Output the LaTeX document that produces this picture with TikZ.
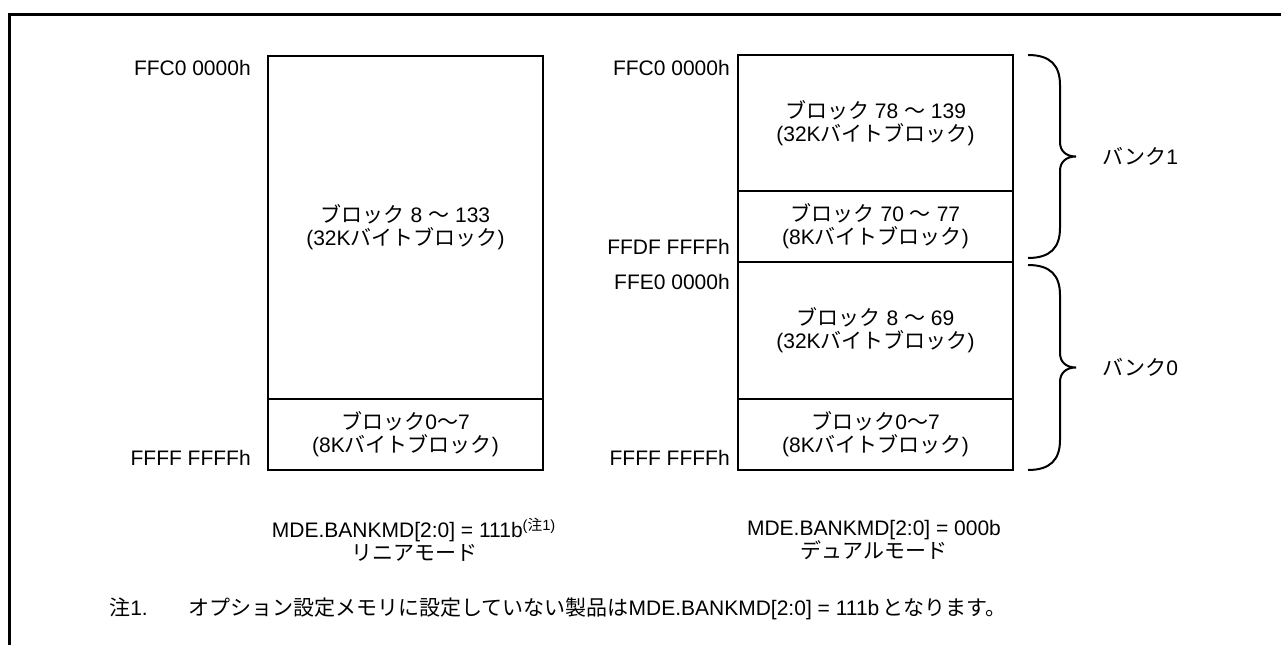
\documentclass[tikz,border=0pt]{standalone}
\usepackage{fontspec}
\setmainfont{Liberation Sans}
\newfontfamily\jpfont{Noto Sans CJK JP}
\newcommand{\jp}[1]{{\jpfont #1}}
\newcommand{\px}{0.75pt}
\usetikzlibrary{positioning}

\tikzset{
	every node/.style={font=\fontsize{15.75pt}{17pt}\selectfont},
	blk/.style={draw, line width=1.5pt, inner sep=0pt, outer sep=0pt, minimum width=275*\px, align=center},
	addr/.style={anchor=east, inner sep=0pt},
	brc/.style={line width=1.5pt},
}

\begin{document}
\begin{tikzpicture}[x=0.75pt, y=-0.75pt]
			\useasboundingbox (0,0) rectangle (1281,645);
			\draw[line width=2.25pt] (9.5,660) -- (9.5,14.5) -- (1300,14.5);

			% linear mode
			\node[blk, minimum height=343*\px] (lin32) at (405.5,227.5) {\jp{ブロック} 8 \jp{〜} 133\\(32K\jp{バイトブロック})};
			\node[blk, minimum height=71*\px, below=0pt of lin32] (lin0) {\jp{ブロック}0\jp{〜}7\\(8K\jp{バイトブロック})};

			\node[addr] (la1) at (251,68) {FFC0 0000h};
			\node[addr] (la2) at (251,458) {FFFF FFFFh};

			% dual mode
			\node[blk, minimum height=136*\px] (dual78) at (875.5,123) {\jp{ブロック} 78 \jp{〜} 139\\(32K\jp{バイトブロック})};
			\node[blk, minimum height=71*\px, below=0pt of dual78] (dual70) {\jp{ブロック} 70 \jp{〜} 77\\(8K\jp{バイトブロック})};
			\node[blk, minimum height=137*\px, below=0pt of dual70] (dual8) {\jp{ブロック} 8 \jp{〜} 69\\(32K\jp{バイトブロック})};
			\node[blk, minimum height=71*\px, below=0pt of dual8] (dual0) {\jp{ブロック}0\jp{〜}7\\(8K\jp{バイトブロック})};

			\node[addr] (da1) at (730,68) {FFC0 0000h};
			\node[addr] (da2) at (730,247) {FFDF FFFFh};
			\node[addr] (da3) at (730,282) {FFE0 0000h};
			\node[addr] (da4) at (730,458) {FFFF FFFFh};

			% banks
			\draw[brc] (1028,55) .. controls (1050,55) and (1060,65) .. (1060,85) -- (1060,142)
				.. controls (1060,151) and (1066,156.5) .. (1076,156.5) coordinate (tip1)
				.. controls (1066,156.5) and (1060,162) .. (1060,171) -- (1060,228)
				.. controls (1060,248) and (1050,258) .. (1028,258);
			\draw[brc] (1028,265) .. controls (1050,265) and (1060,275) .. (1060,295) -- (1060,353)
				.. controls (1060,362) and (1066,367.5) .. (1076,367.5) coordinate (tip0)
				.. controls (1066,367.5) and (1060,373) .. (1060,382) -- (1060,440)
				.. controls (1060,460) and (1050,470) .. (1028,470);
			\node[inner sep=0pt, right=19.5pt of tip1] (bank1) {\jp{バンク}1};
			\node[inner sep=0pt, right=19.5pt of tip0] (bank0) {\jp{バンク}0};

			% modes
			\node[align=center] (linmode) at (414,540) {MDE.BANKMD[2:0] = 111b\textsuperscript{(\jp{注}1)}\\\jp{リニアモード}};
			\node[align=center] (dualmode) at (874,540) {MDE.BANKMD[2:0] = 000b\\\jp{デュアルモード}};

			% note
			\node[anchor=base west, inner sep=0pt] (note1) at (109,615) {\jp{注}1.};
			\node[anchor=base west, inner sep=0pt] (notetext) at (188,615) {\jp{オプション設定メモリに設定していない製品は}MDE.BANKMD[2:0] = 111b\,\jp{となります。}};
		\end{tikzpicture}
\end{document}
